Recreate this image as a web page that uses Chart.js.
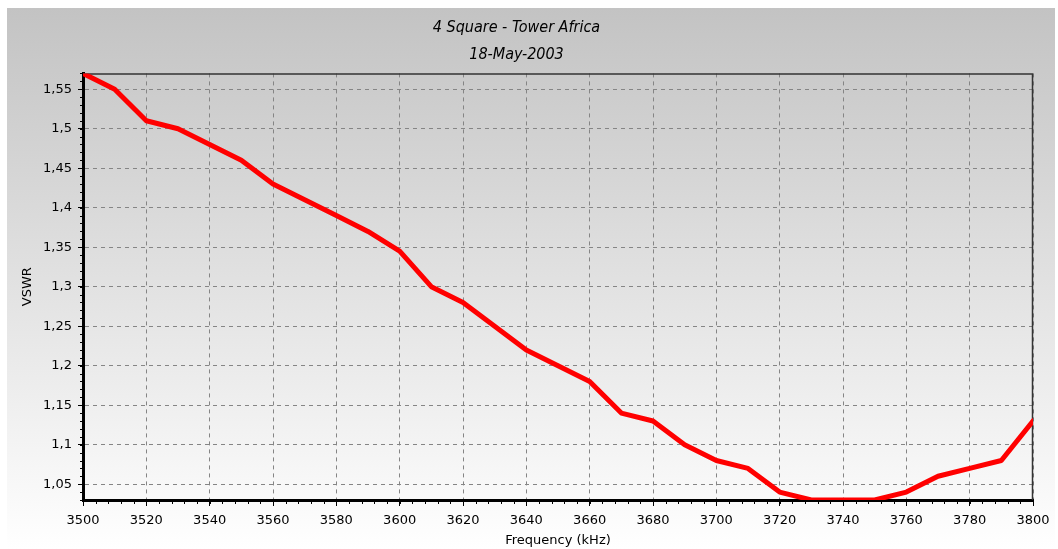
<!DOCTYPE html>
<html><head><meta charset="utf-8">
<script src="https://cdn.jsdelivr.net/npm/chart.js@4/dist/chart.umd.min.js"></script>
<style>html,body{margin:0;padding:0;background:#fff}#wrap{width:1058px;height:549px}</style>
</head><body><div id="wrap"><canvas id="c" width="1058" height="549"></canvas></div>
<script>
const titleLines = ['4 Square - Tower Africa', '18-May-2003'];
const xTitle = 'Frequency (kHz)';
const yTitle = 'VSWR';
const frequencies = [3500,3510,3520,3530,3540,3550,3560,3570,3580,3590,3600,3610,3620,3630,3640,3650,3660,3670,3680,3690,3700,3710,3720,3730,3740,3750,3760,3770,3780,3790,3800];
const vswr = [1.57,1.55,1.51,1.50,1.48,1.46,1.43,1.41,1.39,1.37,1.345,1.30,1.28,1.25,1.22,1.20,1.18,1.14,1.13,1.10,1.08,1.07,1.04,1.03,1.03,1.03,1.04,1.06,1.07,1.08,1.13];
const xTicks = [3500,3520,3540,3560,3580,3600,3620,3640,3660,3680,3700,3720,3740,3760,3780,3800];
const xTickLabels = ['3500','3520','3540','3560','3580','3600','3620','3640','3660','3680','3700','3720','3740','3760','3780','3800'];
const yTicks = [1.05,1.10,1.15,1.20,1.25,1.30,1.35,1.40,1.45,1.50,1.55];
const yTickLabels = ['1,05','1,1','1,15','1,2','1,25','1,3','1,35','1,4','1,45','1,5','1,55'];
const xRange = [3500, 3800];
const yRange = [1.03, 1.57];
const xMinorStep = 4;
const yMinorStep = 0.01;

const tickFont = {family: "'DejaVu Sans', sans-serif", size: 13};

const bgPlugin = {
  id: 'bg',
  beforeDraw(chart) {
    const {ctx, width, height} = chart;
    ctx.save();
    ctx.fillStyle = '#fff';
    ctx.fillRect(0, 0, width, height);
    const g = ctx.createLinearGradient(0, 8, 0, height);
    g.addColorStop(0, '#c3c3c3');
    g.addColorStop(1, '#ffffff');
    ctx.fillStyle = g;
    ctx.fillRect(7, 8, width - 10, height - 8);
    ctx.restore();
  }
};

const framePlugin = {
  id: 'frame',
  beforeDatasetsDraw(chart) {
    const {ctx, chartArea: a} = chart;
    const xs = chart.scales.x, ys = chart.scales.y;
    ctx.save();
    ctx.strokeStyle = '#333';
    ctx.lineWidth = 1.5;
    ctx.beginPath();
    ctx.moveTo(a.left, a.top + 0.5); ctx.lineTo(a.right, a.top + 0.5);
    ctx.moveTo(a.right - 0.5, a.top); ctx.lineTo(a.right - 0.5, a.bottom);
    ctx.stroke();
    ctx.strokeStyle = '#000';
    ctx.lineWidth = 1;
    ctx.beginPath();
    for (let v = xRange[0]; v <= xRange[1] + 1e-9; v += xMinorStep) {
      const px = Math.round(xs.getPixelForValue(v)) + 0.5;
      ctx.moveTo(px, a.bottom); ctx.lineTo(px, a.bottom + 4);
    }
    for (let v = yRange[0]; v <= yRange[1] + 1e-9; v += yMinorStep) {
      const py = Math.round(ys.getPixelForValue(v)) + 0.5;
      ctx.moveTo(a.left - 3, py); ctx.lineTo(a.left, py);
    }
    ctx.stroke();
    ctx.restore();
  }
};

new Chart(document.getElementById('c'), {
  type: 'line',
  data: {
    datasets: [{
      data: frequencies.map((f, i) => ({x: f, y: vswr[i]})),
      borderColor: '#ff0000',
      borderWidth: 5,
      pointRadius: 0,
      tension: 0,
      fill: false,
      clip: 0,
      borderJoinStyle: 'round',
      borderCapStyle: 'round'
    }]
  },
  options: {
    responsive: false,
    animation: false,
    layout: {padding: {left: 0, right: 25, top: 0, bottom: 0}},
    plugins: {
      legend: {display: false},
      tooltip: {enabled: false},
      title: {
        display: true,
        text: titleLines,
        color: '#000',
        font: {family: "'Liberation Sans Narrow', 'DejaVu Sans Condensed', sans-serif", size: 16, style: 'italic', weight: 'normal', lineHeight: 1.7},
        padding: {top: 14, bottom: 5}
      }
    },
    scales: {
      x: {
        type: 'linear',
        min: xRange[0], max: xRange[1],
        afterBuildTicks: s => { s.ticks = xTicks.map(v => ({value: v})); },
        afterFit: s => { s.height = 49; },
        ticks: {callback: (v, i) => xTickLabels[i], color: '#000', font: tickFont, padding: 7, maxRotation: 0, autoSkip: false},
        grid: {color: '#858585', lineWidth: 1, tickLength: 6, tickColor: '#000'},
        border: {display: true, color: '#000', width: 3, dash: [4, 4]},
        title: {display: true, text: xTitle, color: '#000', font: tickFont, padding: {top: 0, bottom: 1}}
      },
      y: {
        type: 'linear',
        min: yRange[0], max: yRange[1],
        afterBuildTicks: s => { s.ticks = yTicks.map(v => ({value: v})); },
        afterFit: s => { s.width = 83; },
        ticks: {callback: (v, i) => yTickLabels[i], color: '#000', font: tickFont, padding: 6},
        grid: {color: '#858585', lineWidth: 1, tickLength: 5, tickColor: '#000'},
        border: {display: true, color: '#000', width: 3, dash: [4, 4]},
        title: {display: true, text: yTitle, color: '#000', font: tickFont, padding: {top: 20, bottom: 0}}
      }
    }
  },
  plugins: [bgPlugin, framePlugin]
});
</script>
</body></html>
